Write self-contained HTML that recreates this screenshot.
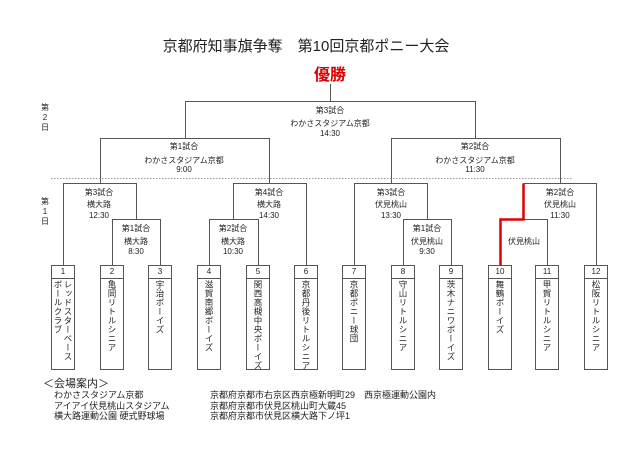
<!DOCTYPE html>
<html><head><meta charset="utf-8"><style>
body{margin:0;background:#fff;}
#w{position:relative;width:640px;height:450px;overflow:hidden;font-family:"Liberation Sans","Noto Sans CJK JP",sans-serif;color:#222;}
.t{position:absolute;font-size:8px;line-height:10px;text-align:center;white-space:nowrap;transform:translateX(-50%);}
.box{position:absolute;top:265px;width:24px;height:105px;border:1px solid #555;box-sizing:border-box;background:#fff;}
.box .n{height:12px;border-bottom:1px solid #555;font-size:8px;line-height:12px;text-align:center;}
.box .nm{writing-mode:vertical-rl;font-size:8.5px;line-height:10px;letter-spacing:0.5px;margin:1px auto 0;height:91px;overflow:hidden;white-space:nowrap;}
.d{position:absolute;left:41px;font-size:8px;line-height:10px;width:8px;text-align:center;}
.v{position:absolute;font-size:9px;line-height:10.5px;white-space:nowrap;}
</style></head><body><div id="w">
<svg width="640" height="450" style="position:absolute;left:0;top:0">
<g stroke="#555" stroke-width="1" fill="none">
<path d="M330.5 84V101.5M185.5 138V101.5H475.5V138"/>
<path d="M100.5 183V138.5H269.5V183M391.5 183V138.5H560.5V183"/>
<path d="M63.5 265V183.5H136.5V219M112.5 265V219.5H160.5V265"/>
<path d="M306.5 265V183.5H233.5V219M209.5 265V219.5H258.5V265"/>
<path d="M354.5 265V183.5H427.5V219M403.5 265V219.5H451.5V265"/>
<path d="M596.5 265V183.5H523.5M547.5 265V219.5H500.5"/>
</g>
<line x1="51" y1="178.5" x2="573" y2="178.5" stroke="#999" stroke-dasharray="1.5,1.5"/>
<path d="M500.5 265V219.5H523.5V183.5" stroke="#d00" stroke-width="2.5" fill="none"/>
</svg>
<div class="t" style="left:306px;top:38px;font-size:15px;line-height:18px;">京都府知事旗争奪　第10回京都ポニー大会</div>
<div class="t" style="left:330px;top:66px;font-size:16px;line-height:19px;font-weight:bold;color:#d00;">優勝</div>
<div class="d" style="top:103px">第<br>2<br>日</div>
<div class="d" style="top:197px">第<br>1<br>日</div>
<div class="t" style="left:330px;top:106px">第3試合</div>
<div class="t" style="left:330px;top:119px">わかさスタジアム京都</div>
<div class="t" style="left:330px;top:129px">14:30</div>
<div class="t" style="left:184px;top:142px">第1試合</div>
<div class="t" style="left:184px;top:156px">わかさスタジアム京都</div>
<div class="t" style="left:184px;top:165px">9:00</div>
<div class="t" style="left:475px;top:142px">第2試合</div>
<div class="t" style="left:475px;top:156px">わかさスタジアム京都</div>
<div class="t" style="left:475px;top:165px">11:30</div>
<div class="t" style="left:99px;top:188px">第3試合</div><div class="t" style="left:99px;top:200px">横大路</div><div class="t" style="left:99px;top:211px">12:30</div>
<div class="t" style="left:269px;top:188px">第4試合</div><div class="t" style="left:269px;top:200px">横大路</div><div class="t" style="left:269px;top:211px">14:30</div>
<div class="t" style="left:391px;top:188px">第3試合</div><div class="t" style="left:391px;top:200px">伏見桃山</div><div class="t" style="left:391px;top:211px">13:30</div>
<div class="t" style="left:560px;top:188px">第2試合</div><div class="t" style="left:560px;top:200px">伏見桃山</div><div class="t" style="left:560px;top:211px">11:30</div>
<div class="t" style="left:136px;top:224px">第1試合</div><div class="t" style="left:136px;top:237px">横大路</div><div class="t" style="left:136px;top:247px">8:30</div>
<div class="t" style="left:233px;top:224px">第2試合</div><div class="t" style="left:233px;top:237px">横大路</div><div class="t" style="left:233px;top:247px">10:30</div>
<div class="t" style="left:427px;top:224px">第1試合</div><div class="t" style="left:427px;top:237px">伏見桃山</div><div class="t" style="left:427px;top:247px">9:30</div>
<div class="t" style="left:524px;top:237px">伏見桃山</div>
<div class="box" style="left:51px"><div class="n">1</div><div class="nm" style="width:20px">レッドスターベース<br>ボールクラブ</div></div>
<div class="box" style="left:100px"><div class="n">2</div><div class="nm" style="width:10px">亀岡リトルシニア</div></div>
<div class="box" style="left:148px"><div class="n">3</div><div class="nm" style="width:10px">宇治ボーイズ</div></div>
<div class="box" style="left:197px"><div class="n">4</div><div class="nm" style="width:10px">滋賀南郷ボーイズ</div></div>
<div class="box" style="left:246px"><div class="n">5</div><div class="nm" style="width:10px">関西高槻中央ボーイズ</div></div>
<div class="box" style="left:294px"><div class="n">6</div><div class="nm" style="width:10px">京都丹後リトルシニア</div></div>
<div class="box" style="left:342px"><div class="n">7</div><div class="nm" style="width:10px">京都ポニー球団</div></div>
<div class="box" style="left:391px"><div class="n">8</div><div class="nm" style="width:10px">守山リトルシニア</div></div>
<div class="box" style="left:439px"><div class="n">9</div><div class="nm" style="width:10px">茨木ナニワボーイズ</div></div>
<div class="box" style="left:488px"><div class="n">10</div><div class="nm" style="width:10px">舞鶴ボーイズ</div></div>
<div class="box" style="left:535px"><div class="n">11</div><div class="nm" style="width:10px">甲賀リトルシニア</div></div>
<div class="box" style="left:584px"><div class="n">12</div><div class="nm" style="width:10px">松阪リトルシニア</div></div>
<div class="v" style="left:43px;top:378px;font-size:11px;line-height:12px">＜会場案内＞</div>
<div class="v" style="left:54px;top:390px">わかさスタジアム京都<br>アイアイ伏見桃山スタジアム<br>横大路運動公園 硬式野球場</div>
<div class="v" style="left:210px;top:390px">京都府京都市右京区西京極新明町29　西京極運動公園内<br>京都府京都市伏見区桃山町大蔵45<br>京都府京都市伏見区横大路下ノ坪1</div>
</div></body></html>
